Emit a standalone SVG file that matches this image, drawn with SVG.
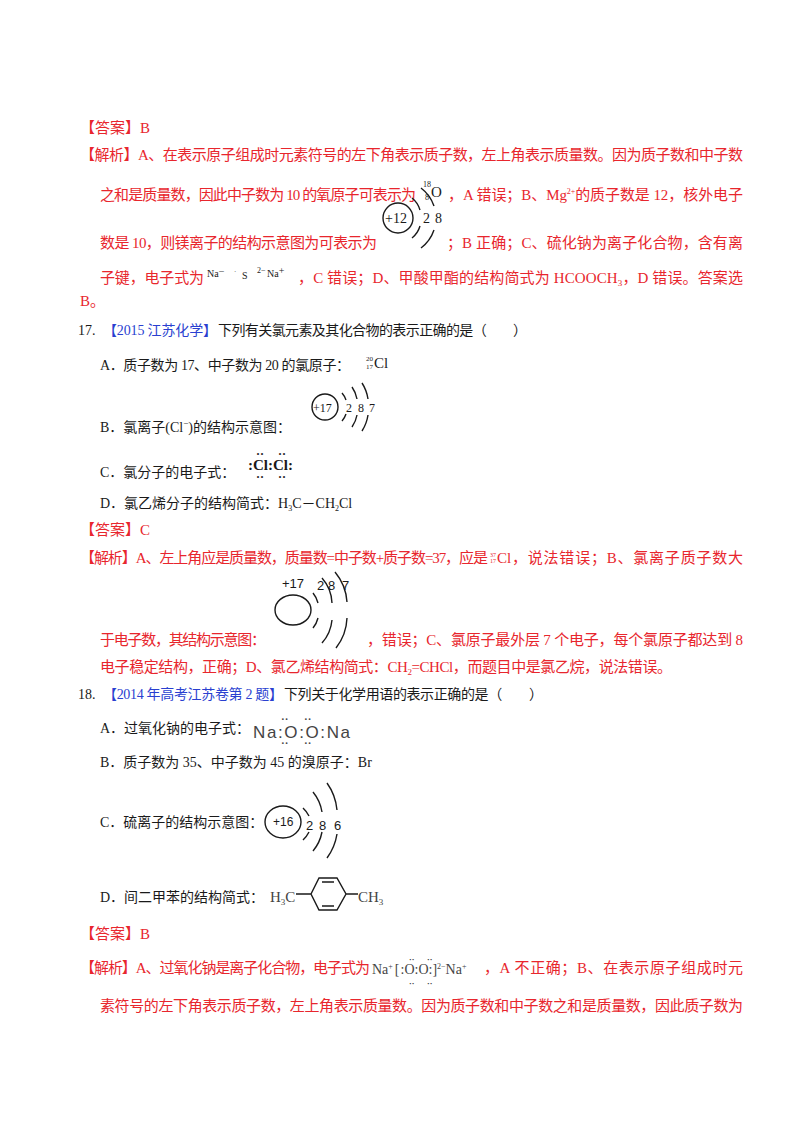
<svg xmlns="http://www.w3.org/2000/svg" width="800" height="1132" viewBox="0 0 800 1132">
<style>
text{font-family:"Liberation Serif","Noto Sans CJK SC",serif;}
.r{fill:#e8262d;font-size:15px;}
.k{fill:#1a1a1a;font-size:14px;}
.b{fill:#2a3fd0;font-size:14px;}
.g{fill:#444;}
.n{fill:#1a1a1a;font-family:"Liberation Sans",sans-serif;font-size:12px;}
.ln{fill:none;stroke:#1a1a1a;stroke-width:1.4;}
</style>
<rect width="800" height="1132" fill="#fff"/>

<g id="q16-answer">
<text class="r" x="80" y="133">【答案】B</text>
<text class="r" x="80" y="160" textLength="663" lengthAdjust="spacing">【解析】A、在表示原子组成时元素符号的左下角表示质子数，左上角表示质量数。因为质子数和中子数</text>
<text class="r" x="100" y="200" textLength="316" lengthAdjust="spacing">之和是质量数，因此中子数为 10 的氧原子可表示为</text>
<text x="423" y="187" class="k" style="font-size:8px">18</text><text x="425" y="200" class="k" style="font-size:8px">8</text><text x="431" y="197" class="k" style="font-size:15px">O</text>
<text class="r" x="448" y="200" textLength="295" lengthAdjust="spacing">，A 错误；B、Mg<tspan style="font-size:8px" dy="-6">2+</tspan><tspan dy="6">的质子数是 12，核外电子</tspan></text>
<circle class="ln" cx="398" cy="218" r="15"/>
<text class="k" x="385" y="223" style="font-size:14px">+12</text>
<text class="k" x="423" y="223" style="font-size:14px">2</text><text class="k" x="435" y="223" style="font-size:14px">8</text>
<path class="ln" d="M412,198 A24,24 0 0 1 420,210 M420,226 A24,24 0 0 1 412,238 M421,188 A38,38 0 0 1 434,206 M434,230 A38,38 0 0 1 421,248"/>
<text class="r" x="100" y="248" textLength="277" lengthAdjust="spacing">数是 10，则镁离子的结构示意图为可表示为</text>
<text class="r" x="447" y="248" textLength="296" lengthAdjust="spacing">；B 正确；C、硫化钠为离子化合物，含有离</text>
<text class="r" x="100" y="283" textLength="104" lengthAdjust="spacing">子键，电子式为</text>
<text class="k" x="207" y="277" style="font-size:10px">Na<tspan dy="-2">−</tspan></text>
<text class="k" x="234" y="274" style="font-size:7px">·</text>
<text class="k" x="242" y="279" style="font-size:10px">S</text>
<text class="k" x="257" y="273" style="font-size:8px">2−</text>
<text class="k" x="267" y="277" style="font-size:10px">Na<tspan dy="-3">+</tspan></text>
<text class="r" x="298" y="283" textLength="445" lengthAdjust="spacing">，C 错误；D、甲酸甲酯的结构简式为 HCOOCH<tspan style="font-size:9px" dy="3">3</tspan><tspan dy="-3">，D 错误。答案选</tspan></text>
<text class="r" x="80" y="306">B。</text>
</g>

<g id="q17">
<text class="k" x="78" y="335">17.</text>
<text class="b" x="103" y="335" textLength="114" lengthAdjust="spacing">【2015 江苏化学】</text>
<text class="k" x="218" y="335" textLength="309" lengthAdjust="spacing">下列有关氯元素及其化合物的表示正确的是（　　）</text>
<text class="k" x="100" y="370" textLength="250" lengthAdjust="spacing">A．质子数为 17、中子数为 20 的氯原子：</text>
<text x="366" y="361" class="k" style="font-size:7px">20</text><text x="366" y="369" class="k" style="font-size:7px">17</text><text x="374" y="368" class="k" style="font-size:15px">Cl</text>
<circle class="ln" cx="325" cy="407" r="13"/>
<text class="k" x="313" y="412" style="font-size:12px">+17</text>
<text class="k" x="346" y="412" style="font-size:12px">2</text><text class="k" x="358" y="412" style="font-size:12px">8</text><text class="k" x="369" y="412" style="font-size:12px">7</text>
<path class="ln" d="M342,393 A20,20 0 0 1 346,400 M346,414 A20,20 0 0 1 342,421 M352,387 A30,30 0 0 1 357,399 M357,415 A30,30 0 0 1 352,427 M362,383 A40,40 0 0 1 368,399 M368,415 A40,40 0 0 1 362,431"/>
<text class="k" x="100" y="432">B．氯离子(Cl<tspan style="font-size:9px" dy="-6">−</tspan><tspan dy="6">)的结构示意图：</tspan></text>
<text class="k" x="100" y="477">C．氯分子的电子式：</text>
<text class="k" x="248" y="470" style="font-size:15px;font-weight:bold">:Cl:Cl:</text>
<text class="k" x="256" y="458" style="font-size:12px;font-weight:bold">··</text><text class="k" x="278" y="458" style="font-size:12px;font-weight:bold">··</text>
<text class="k" x="256" y="481" style="font-size:12px;font-weight:bold">··</text><text class="k" x="278" y="481" style="font-size:12px;font-weight:bold">··</text>
<text class="k" x="100" y="508">D．氯乙烯分子的结构简式：H<tspan style="font-size:8px" dy="3">3</tspan><tspan dy="-3">C－CH</tspan><tspan style="font-size:8px" dy="3">2</tspan><tspan dy="-3">Cl</tspan></text>
</g>

<g id="q17-answer">
<text class="r" x="80" y="535">【答案】C</text>
<text class="r" x="80" y="563" textLength="408" lengthAdjust="spacing">【解析】A、左上角应是质量数，质量数=中子数+质子数=37，应是</text>
<text x="490" y="557" class="r" style="font-size:6px">37</text><text x="490" y="563" class="r" style="font-size:6px">17</text><text x="497" y="563" class="r">Cl</text>
<text class="r" x="512" y="563" textLength="231" lengthAdjust="spacing">，说法错误；B、氯离子质子数大</text>
<text x="282" y="588" class="n" style="font-size:13px">+17</text>
<text x="317" y="590" class="n" style="font-size:13px">2</text>
<text x="328" y="590" class="n" style="font-size:13px">8</text>
<text x="342" y="590" class="n" style="font-size:13px">7</text>
<ellipse class="ln" cx="293" cy="610" rx="18" ry="15"/>
<path class="ln" d="M313,593 A25,25 0 0 1 318,603 M318,618 A25,25 0 0 1 313,628 M322,578 A40,40 0 0 1 332,603 M332,620 A40,40 0 0 1 322,643 M335,572 A52,52 0 0 1 347,602 M347,618 A52,52 0 0 1 336,648"/>
<text class="r" x="100" y="645" textLength="166" lengthAdjust="spacing">于电子数，其结构示意图：</text>
<text class="r" x="367" y="645" textLength="376" lengthAdjust="spacing">，错误；C、氯原子最外层 7 个电子，每个氯原子都达到 8</text>
<text class="r" x="100" y="672" textLength="572" lengthAdjust="spacing">电子稳定结构，正确；D、氯乙烯结构简式：CH<tspan style="font-size:9px" dy="3">2</tspan><tspan dy="-3">=CHCl，而题目中是氯乙烷，说法错误。</tspan></text>
</g>

<g id="q18">
<text class="k" x="78" y="699">18.</text>
<text class="b" x="103" y="699" textLength="180" lengthAdjust="spacing">【2014 年高考江苏卷第 2 题】</text>
<text class="k" x="284" y="699" textLength="259" lengthAdjust="spacing">下列关于化学用语的表示正确的是（　　）</text>
<text class="k" x="100" y="733">A．过氧化钠的电子式：</text>
<text class="g" x="253" y="738" textLength="97" lengthAdjust="spacing" style="font-size:17px;font-family:'Liberation Sans',sans-serif">Na:O:O:Na</text>
<text class="g" x="281" y="723" style="font-size:11px;font-weight:bold">··</text><text class="g" x="304" y="723" style="font-size:11px;font-weight:bold">··</text>
<text class="g" x="281" y="747" style="font-size:11px;font-weight:bold">··</text><text class="g" x="304" y="747" style="font-size:11px;font-weight:bold">··</text>
<text class="k" x="100" y="767">B．质子数为 35、中子数为 45 的溴原子：Br</text>
<text class="k" x="100" y="827">C．硫离子的结构示意图：</text>
<ellipse class="ln" cx="283" cy="822" rx="18" ry="16"/>
<text x="273" y="826" class="n">+16</text>
<text x="306" y="830" class="n" style="font-size:13px">2</text>
<text x="319" y="830" class="n" style="font-size:13px">8</text>
<text x="334" y="830" class="n" style="font-size:13px">6</text>
<path class="ln" d="M303,808 A28,28 0 0 1 309,816 M309,832 A28,28 0 0 1 303,840 M313,792 A42,42 0 0 1 322,812 M322,832 A42,42 0 0 1 313,851 M327,783 A55,55 0 0 1 337,810 M337,834 A55,55 0 0 1 327,858"/>
<text class="k" x="100" y="902">D．间二甲苯的结构简式：</text>
<text class="g" x="270" y="902" style="font-size:15px">H<tspan style="font-size:9px" dy="3">3</tspan><tspan dy="-3">C</tspan></text>
<path class="ln" stroke="#555" d="M296,894 H311 M311,894 L319,878 H337 L346,894 L337,910 H319 Z M346,894 H358 M322,882 H334 M322,906 H334"/>
<text class="g" x="358" y="902" style="font-size:15px">CH<tspan style="font-size:9px" dy="3">3</tspan></text>
</g>

<g id="q18-answer">
<text class="r" x="80" y="939">【答案】B</text>
<text class="r" x="80" y="973" textLength="290" lengthAdjust="spacing">【解析】A、过氧化钠是离子化合物，电子式为</text>
<text class="g" x="372" y="974" style="font-size:14px">Na<tspan style="font-size:8px" dy="-5">+</tspan><tspan dy="5" dx="2">[</tspan><tspan dx="1">:O:O:</tspan><tspan>]</tspan><tspan style="font-size:8px" dy="-5">2−</tspan><tspan dy="5">Na</tspan><tspan style="font-size:8px" dy="-5">+</tspan></text>
<text class="g" x="409" y="962" style="font-size:8px;font-weight:bold">··</text><text class="g" x="427" y="962" style="font-size:8px;font-weight:bold">··</text>
<text class="g" x="409" y="986" style="font-size:8px;font-weight:bold">··</text><text class="g" x="427" y="986" style="font-size:8px;font-weight:bold">··</text>
<text class="r" x="484" y="973" textLength="259" lengthAdjust="spacing">，A 不正确；B、在表示原子组成时元</text>
<text class="r" x="100" y="1011" textLength="643" lengthAdjust="spacing">素符号的左下角表示质子数，左上角表示质量数。因为质子数和中子数之和是质量数，因此质子数为</text>
</g>
</svg>
